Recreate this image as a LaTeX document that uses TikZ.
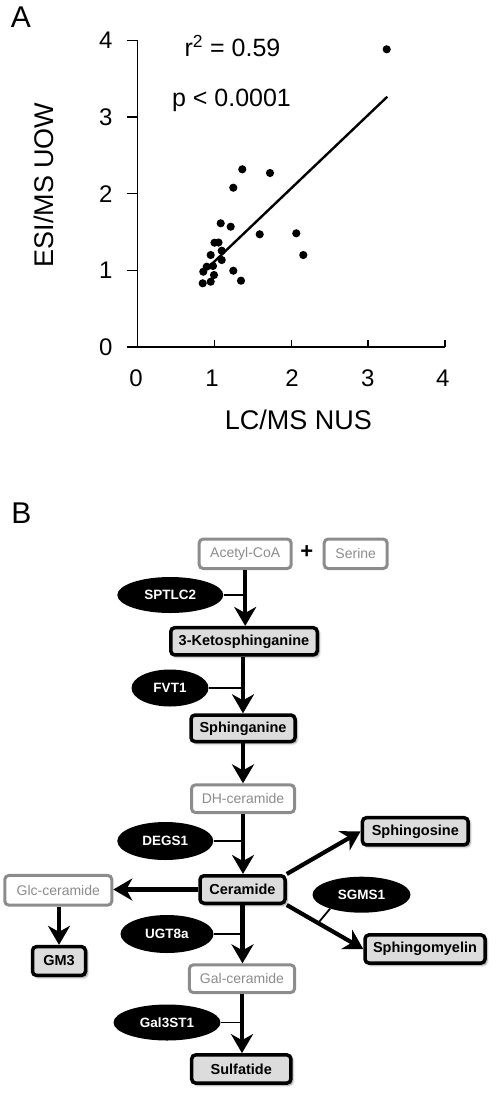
\documentclass[tikz,border=0pt]{standalone}
\usepackage{fontspec}
\setmainfont{Liberation Sans}
\usetikzlibrary{arrows.meta,shapes.geometric,shadows.blur}
\definecolor{lg}{HTML}{8C8C8C}
\definecolor{boxfill}{HTML}{DCDCDC}
\begin{document}
\begin{tikzpicture}[x=1pt,y=-1pt,
 dark/.style={draw=black, line width=3.5pt, fill=boxfill, rounded corners=4pt,
   font=\fontsize{14.5}{16}\selectfont\bfseries, inner sep=0pt,
   blur shadow={shadow xshift=2pt, shadow yshift=-2pt, shadow blur steps=6, shadow opacity=45}},
 light/.style={draw=lg, line width=3pt, fill=white, rounded corners=4pt, text=lg,
   font=\fontsize{14}{16}\selectfont, inner sep=0pt},
 enz/.style={ellipse, fill=black, text=white, font=\fontsize{13.5}{15}\selectfont\bfseries, inner sep=0pt},
 arr/.style={line width=4.2pt, -{Stealth[length=19pt,width=22pt,inset=6pt]}},
 link/.style={line width=1.8pt},
 axis/.style={line width=1.4pt},
 tick/.style={font=\fontsize{24}{26}\selectfont},
 dot/.style={fill=black}]
\useasboundingbox (0,0) rectangle (498,1096);

% ---------- Panel A ----------
\node[font=\fontsize{30}{32}\selectfont] (la) at (21,17.5) {A};
\draw[axis] (137.3,40.3) -- (137.3,347);
\draw[axis] (126.7,347) -- (445,347);
\foreach \yy in {40.3,117,193.7,270.3} \draw[axis] (126.7,\yy) -- (137.3,\yy);
\foreach \xx in {214.3,291.3,368,445} \draw[axis] (\xx,340) -- (\xx,347);
\foreach \yy/\t in {40.3/4,117/3,193.7/2,270.3/1,347/0}
  \node[tick, anchor=east] at (116,\yy) {\t};
\foreach \xx/\t in {136/0,212/1,292/2,367.7/3,442.7/4}
  \node[tick] at (\xx,378.3) {\t};
\node[font=\fontsize{27}{29}\selectfont, rotate=90] (ylab) at (44,185) {ESI/MS UOW};
\node[font=\fontsize{27}{29}\selectfont] (xlab) at (298.3,420) {LC/MS NUS};
\node[font=\fontsize{25}{27}\selectfont, anchor=base] (r2) at (232.5,56.7) {r\textsuperscript{2} = 0.59};
\node[font=\fontsize{25}{27}\selectfont, anchor=base] (pv) at (231.5,106) {p < 0.0001};
\draw[line width=2.4pt] (202.7,272.7) -- (387.3,96.7);
\foreach \px/\py in {386.7/49.3,242.3/169.3,270/173,233.3/187.7,220.7/223.3,230.7/226.7,
  259.7/234.3,296.3/233.3,214.5/242.7,218.5/242.5,221.7/250.7,210.7/255,303.3/255,
  221.7/260,233.3/270.7,206.7/266.7,203.3/271.7,213/266,241/280.7,202.7/283.3,210.7/281.7,
  214/275}
  \fill[dot] (\px,\py) circle[radius=4.1pt];

% ---------- Panel B ----------
\node[font=\fontsize{30}{32}\selectfont] (lb) at (21.3,513.3) {B};

\node[light, minimum width=92, minimum height=29.5] (acetyl) at (245.2,553.8) {Acetyl-CoA};
\node[font=\fontsize{22}{24}\selectfont\bfseries] (plus) at (306.7,552.5) {+};
\node[light, minimum width=63, minimum height=29.5] (serine) at (355.7,553.8) {Serine};
\node[dark, minimum width=146.5, minimum height=27.2] (keto) at (244,641.3) {3-Ketosphinganine};
\node[dark, minimum width=104, minimum height=26.5] (sphn) at (243,728.3) {Sphinganine};
\node[light, minimum width=103, minimum height=27.7] (dh) at (243,798.7) {DH-ceramide};
\node[dark, minimum width=85, minimum height=27.5] (cer) at (242.5,889.5) {Ceramide};
\node[light, minimum width=107, minimum height=29.7] (glc) at (58.3,890.3) {Glc-ceramide};
\node[dark, minimum width=53, minimum height=28.8] (gm3) at (59,961) {GM3};
\node[dark, minimum width=105.8, minimum height=27.2] (sphs) at (415.3,831.3) {Sphingosine};
\node[dark, minimum width=120, minimum height=28.2] (smy) at (425,949) {Sphingomyelin};
\node[light, minimum width=105.3, minimum height=27.7] (gal) at (242,978.7) {Gal-ceramide};
\node[dark, minimum width=99.2, minimum height=28.2] (sulf) at (241.3,1069) {Sulfatide};

\node[enz, minimum width=106, minimum height=36] (sptlc) at (170.3,595) {SPTLC2};
\node[enz, minimum width=77, minimum height=37] (fvt) at (170,688) {FVT1};
\node[enz, minimum width=96, minimum height=38] (degs) at (165.3,841) {DEGS1};
\node[enz, minimum width=93, minimum height=38] (ugt) at (167,934) {UGT8a};
\node[enz, minimum width=98, minimum height=36] (sgms) at (361.5,894.7) {SGMS1};
\node[enz, minimum width=107, minimum height=36] (gal3) at (167,1022.5) {Gal3ST1};

\draw[arr] (acetyl.south) -- (acetyl.south |- keto.north);
\draw[arr] (keto.south -| sphn.north) -- (sphn.north);
\draw[arr] (sphn.south) -- (dh.north);
\draw[arr] (dh.south) -- (dh.south |- cer.north);
\draw[arr] (cer.south) -- (cer.south |- gal.north);
\draw[arr] (gal.south) -- (gal.south |- sulf.north);
\draw[arr] (cer.west) -- (glc.east |- cer.west);
\draw[arr] (glc.south -| gm3.north) -- (gm3.north);
\draw[arr] (cer.north east) -- (sphs.west);
\draw[arr] (cer.south east) -- coordinate[pos=0.41] (sgm) (smy.west);

\draw[link] (sptlc.east) -- (sptlc.east -| acetyl.south);
\draw[link] (fvt.east) -- (fvt.east -| sphn.north);
\draw[link] (degs.east) -- (degs.east -| dh.south);
\draw[link] (ugt.east) -- (ugt.east -| cer.south);
\draw[link] (gal3.east) -- (gal3.east -| gal.south);
\draw[link] (sgm) -- (sgms.204);
\end{tikzpicture}
\end{document}
